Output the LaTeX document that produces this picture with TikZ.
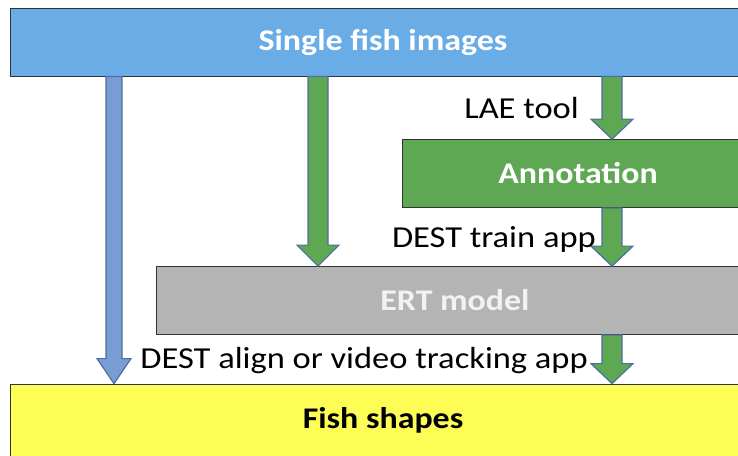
\documentclass[tikz,border=0pt]{standalone}
\usepackage{fontspec}
\setmainfont[FakeStretch=1.13]{Carlito}
\usepackage{xcolor}
\usepackage{tikz}
\usetikzlibrary{positioning, calc}

\definecolor{skyblue}{RGB}{106,172,230}
\definecolor{leafgreen}{RGB}{94,168,84}
\definecolor{boxgray}{RGB}{180,180,180}
\definecolor{lemon}{RGB}{253,253,86}
\definecolor{edgeblue}{RGB}{78,110,160}
\definecolor{softblue}{RGB}{122,156,212}

% block arrow: #1 style, #2 x position, #3 source node, #4 target node,
% #5 half shaft width, #6 half head width, #7 head length
\newcommand{\blockarrow}[7]{%
  \draw[#1] let \p1=(#2,0 |- #3.south), \p2=(#2,0 |- #4.north) in
    (\x1-#5,\y1) -- (\x1-#5,\y2+#7) -- (\x1-#6,\y2+#7) -- (\x2,\y2)
    -- (\x1+#6,\y2+#7) -- (\x1+#5,\y2+#7) -- (\x1+#5,\y1) -- cycle;}

\begin{document}
\begin{tikzpicture}[
        x=1pt, y=-1pt,
        stage/.style={rectangle, draw=black!80, line width=0.8pt, minimum height=68pt,
            font=\fontsize{30}{34}\selectfont\bfseries, inner sep=0pt},
        tool/.style={font=\fontsize{30.5}{34}\selectfont, inner sep=0pt},
        greenarrow/.style={fill=leafgreen, draw=edgeblue, line width=1.2pt, line join=miter},
        bluearrow/.style={fill=softblue, draw=edgeblue, line width=1.2pt, line join=miter}
    ]
        \useasboundingbox (0,0) rectangle (738,455);

        % Stages
        \node[stage, fill=skyblue, text=white, minimum width=746pt] (images) at (383,42) {Single fish images};
        \node[stage, fill=leafgreen, text=white, minimum width=352pt] (annot) at (578,173.5) {Annotation};
        \node[stage, fill=boxgray, text=white!95!black, minimum width=598pt] (ert) at (455,300.5) {ERT model};
        \node[stage, fill=lemon, text=black, minimum width=746pt, minimum height=72pt] (shapes) at (383,420) {Fish shapes};

        % Arrows
        \blockarrow{bluearrow}{114}{images}{shapes}{8pt}{17pt}{25pt}
        \blockarrow{greenarrow}{318}{images}{ert}{10pt}{21pt}{21pt}
        \blockarrow{greenarrow}{612}{images}{annot}{10pt}{21pt}{20pt}
        \blockarrow{greenarrow}{612}{annot}{ert}{10pt}{21pt}{20pt}
        \blockarrow{greenarrow}{612}{ert}{shapes}{10pt}{21pt}{20pt}

        % Tool labels
        \node[tool, anchor=east] (lae) at (579,108) {LAE tool};
        \node[tool, anchor=east] (train) at (596,239) {DEST train app};
        \node[tool, anchor=east] (align) at (588,361) {DEST align or video tracking app};

    \end{tikzpicture}
\end{document}
